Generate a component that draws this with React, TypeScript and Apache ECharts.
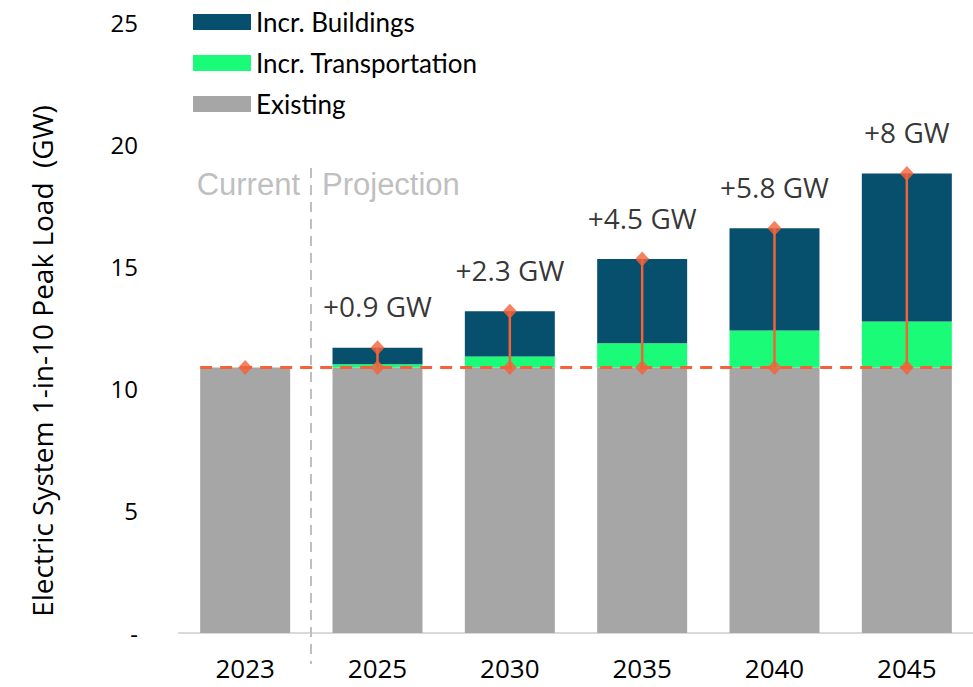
import React, { useEffect, useRef } from "react";
import * as echarts from "echarts";

const years = ["2023", "2025", "2030", "2035", "2040", "2045"];
const existing = [10.86, 10.86, 10.86, 10.86, 10.86, 10.86];
const transportation = [0, 0.14, 0.45, 1.0, 1.52, 1.89];
const buildings = [0, 0.67, 1.85, 3.44, 4.18, 6.05];
const increaseLabels = ["", "+0.9 GW", "+2.3 GW", "+4.5 GW", "+5.8 GW", "+8 GW"];
const yTitle = "Electric System 1-in-10 Peak Load  (GW)";

const BLUE = "#064f6d";
const GREEN = "#1afc77";
const GREY = "#a6a6a6";
const ORANGE = "#f4623a";
const LIGHT = "#bfbfbf";
const SANS = "'Open Sans', 'Noto Sans', sans-serif";
const LEG = "Lato, 'Open Sans', sans-serif";

export default function App() {
  const ref = useRef<HTMLDivElement>(null);
  useEffect(() => {
    if (!ref.current) return;
    const chart = echarts.init(ref.current, undefined, { renderer: "svg" });
    const totals = years.map((_, i) => existing[i] + transportation[i] + buildings[i]);
    const base = existing[0];

    const option: any = {
      animation: false,
      backgroundColor: "#ffffff",
      grid: { left: 179, top: 22, width: 802, bottom: 54, containLabel: false },
      legend: {
        orient: "vertical",
        left: 188,
        top: 4,
        itemWidth: 58,
        itemHeight: 16,
        itemGap: 15,
        data: ["Incr. Buildings", "Incr. Transportation", "Existing"],
        textStyle: { fontFamily: LEG, fontSize: 26, color: "#000" },
        icon: "rect",
      },
      xAxis: {
        type: "category",
        data: years,
        axisLine: { lineStyle: { color: "#d9d9d9", width: 2 } },
        axisTick: { show: false },
        axisLabel: { fontFamily: SANS, fontSize: 26, lineHeight: 26, color: "#000", margin: 22 },
      },
      yAxis: {
        type: "value",
        min: 0,
        max: 25,
        interval: 5,
        axisLine: { show: false },
        axisTick: { show: false },
        splitLine: { show: false },
        axisLabel: {
          fontFamily: SANS,
          fontSize: 24,
          color: "#000",
          margin: 41,
          formatter: (v: number) => (v === 0 ? "-" : String(v)),
        },
      },
      series: [
        {
          name: "Existing",
          type: "bar",
          stack: "total",
          barWidth: "68%",
          data: existing,
          itemStyle: { color: GREY },
        },
        {
          name: "Incr. Transportation",
          type: "bar",
          stack: "total",
          barWidth: "68%",
          data: transportation,
          itemStyle: { color: GREEN },
        },
        {
          name: "Incr. Buildings",
          type: "bar",
          stack: "total",
          barWidth: "68%",
          data: buildings,
          itemStyle: { color: BLUE },
        },
        {
          name: "baseline",
          type: "custom",
          z: 5,
          data: [[0, base]],
          renderItem: (params: any, api: any) => {
            const p0 = api.coord([0, base]);
            const p1 = api.coord([years.length - 1, base]);
            const half = api.size([1, 0])[0] * 0.34;
            return {
              type: "line",
              shape: { x1: p0[0] - half, y1: p0[1], x2: p1[0] + half, y2: p1[1] },
              style: { stroke: ORANGE, lineWidth: 3, lineDash: [12, 8] },
            };
          },
        },
        {
          name: "stems",
          type: "custom",
          z: 6,
          data: years.map((_, i) => [i, base, totals[i]]).slice(1),
          renderItem: (params: any, api: any) => {
            const a = api.coord([api.value(0), api.value(1)]);
            const b = api.coord([api.value(0), api.value(2)]);
            return {
              type: "line",
              shape: { x1: a[0], y1: a[1], x2: b[0], y2: b[1] },
              style: { stroke: ORANGE, lineWidth: 2.5 },
            };
          },
        },
        {
          name: "baseMarks",
          type: "scatter",
          z: 7,
          symbol: "diamond",
          symbolSize: [14, 15],
          itemStyle: { color: ORANGE },
          data: years.map((_, i) => [i, base]),
        },
        {
          name: "topMarks",
          type: "scatter",
          z: 7,
          symbol: "diamond",
          symbolSize: [14, 15],
          itemStyle: { color: ORANGE },
          data: years.map((_, i) => [i, totals[i]]).slice(1).map((d, k) => ({
            value: d,
            label: {
              show: true,
              position: "top",
              distance: 20,
              formatter: increaseLabels[k + 1],
              fontFamily: SANS,
              fontSize: 28,
              color: "#000",
            },
          })),
        },
      ],
      graphic: [
        {
          type: "text",
          x: 42,
          y: 361,
          rotation: Math.PI / 2,
          style: {
            text: yTitle,
            fill: "#000",
            fontSize: 28,
            fontFamily: SANS,
            align: "center",
            verticalAlign: "middle",
          },
        },
        {
          type: "line",
          shape: { x1: 311, y1: 168, x2: 311, y2: 664 },
          style: { stroke: LIGHT, lineWidth: 2, lineDash: [10, 7] },
          z: 10,
        },
        {
          type: "text",
          x: 300,
          y: 184,
          style: {
            text: "Current",
            fill: LIGHT,
            fontSize: 31,
            fontFamily: "'Liberation Sans', Arial, sans-serif",
            align: "right",
            verticalAlign: "middle",
          },
        },
        {
          type: "text",
          x: 322,
          y: 184,
          style: {
            text: "Projection",
            fill: LIGHT,
            fontSize: 31,
            fontFamily: "'Liberation Sans', Arial, sans-serif",
            align: "left",
            verticalAlign: "middle",
          },
        },
      ],
    };
    chart.setOption(option);
    return () => chart.dispose();
  }, []);

  return <div ref={ref} style={{ width: 973, height: 687, position: "absolute", left: 0, top: 0 }} />;
}
